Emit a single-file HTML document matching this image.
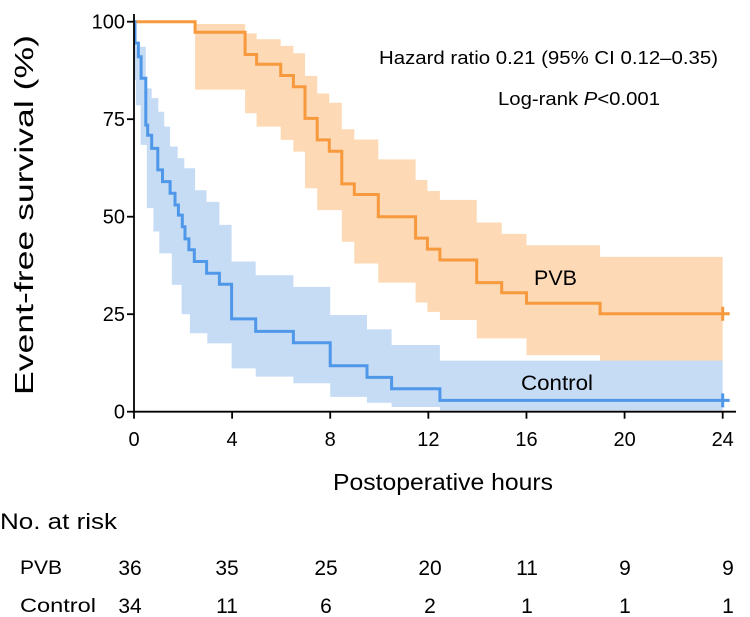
<!DOCTYPE html>
<html><head><meta charset="utf-8"><style>
html,body{margin:0;padding:0;background:#fff;}
svg{display:block;font-family:"Liberation Sans",Arial,sans-serif;}
</style></head><body>
<svg id="chart" width="750" height="617" viewBox="0 0 750 617">
  <g id="bands"></g>
  <g id="lines"></g>
  <g id="axes"></g>
  <text x="33" y="215" font-size="26" text-anchor="middle" textLength="360" lengthAdjust="spacingAndGlyphs" transform="rotate(-90 33 215)">Event-free survival (%)</text>
  <text x="443" y="490" font-size="23" text-anchor="middle" textLength="220" lengthAdjust="spacingAndGlyphs">Postoperative hours</text>
  <text x="379" y="64" font-size="18" textLength="339" lengthAdjust="spacingAndGlyphs">Hazard ratio 0.21 (95% CI  0.12–0.35)</text>
  <text x="498" y="105" font-size="18" textLength="162" lengthAdjust="spacingAndGlyphs">Log-rank <tspan font-style="italic">P</tspan>&lt;0.001</text>
  <text x="534" y="285" font-size="21" textLength="43" lengthAdjust="spacingAndGlyphs">PVB</text>
  <text x="521" y="390" font-size="21" textLength="72" lengthAdjust="spacingAndGlyphs">Control</text>
  <text x="0" y="529" font-size="22" textLength="117" lengthAdjust="spacingAndGlyphs">No. at risk</text>
  <text x="20" y="574" font-size="19" textLength="42" lengthAdjust="spacingAndGlyphs">PVB</text>
  <text x="20" y="612" font-size="19" textLength="76" lengthAdjust="spacingAndGlyphs">Control</text>
  <g id="risk"></g>
</svg>
<script>
const xTicks=[0,4,8,12,16,20,24];
const yTicks=[0,25,50,75,100];
const pvbSteps=[[0,100],[2.49,97.3],[4.53,91.6],[5.0,89.1],[5.98,86.2],[6.5,83.3],[6.97,75.2],[7.47,69.7],[7.96,66.8],[8.47,58.4],[8.98,55.7],[9.96,50],[11.48,44.5],[11.96,41.7],[12.47,38.9],[13.97,33.1],[14.99,30.5],[16.0,27.8],[19.0,25.1]];
const pvbUpper=[[2.49,99.4],[4.53,97],[5.0,95.5],[5.98,93.8],[6.5,91.9],[6.97,86.1],[7.47,81.6],[7.96,79.2],[8.47,72.4],[8.98,69.8],[9.96,64.7],[11.48,59.4],[11.96,56.6],[12.47,54.3],[13.97,48.5],[14.99,45.6],[16.0,42.7],[19.0,39.7]];
const pvbLower=[[2.49,82.6],[4.53,76.5],[5.0,73.1],[5.98,69.7],[6.5,66.7],[6.97,57.3],[7.47,51.7],[8.47,43.6],[8.98,38],[9.96,33.1],[11.48,28],[11.96,25.6],[12.47,23.5],[13.97,18.8],[16.0,14.5],[19.0,12.6]];
const ctlSteps=[[0,100],[0.04,94.5],[0.18,91],[0.29,85.5],[0.48,73.5],[0.56,70.9],[0.72,67.5],[0.97,62],[1.16,59],[1.47,56],[1.67,53],[1.81,50.4],[1.97,47.4],[2.08,44.3],[2.24,41.5],[2.46,38.5],[2.96,35.5],[3.48,32.7],[3.98,23.8],[4.96,20.6],[6.5,17.7],[8.0,11.8],[9.5,8.8],[10.5,5.9],[12.47,2.9]];
const ctlUpper=[[0,100],[0.1,93.6],[0.48,82.9],[0.72,80.4],[0.99,76.9],[1.23,73.1],[1.47,68],[1.78,65],[2.05,62.4],[2.49,56.8],[2.96,53.8],[3.48,47.9],[3.98,38.5],[4.96,35],[6.5,32],[8.0,24.8],[9.5,21.1],[10.5,17.1],[12.47,13.1]];
const ctlLower=[[0,85],[0.08,78.6],[0.27,68.4],[0.52,52.2],[0.79,46.2],[1.03,40.6],[1.54,32.5],[1.94,25],[2.28,20.1],[2.99,17.5],[3.98,11.1],[4.96,9],[6.5,7.3],[8.0,3.8],[9.5,2.3],[10.5,1.2],[12.47,0.3]];
const riskTimes=[0,4,8,12,16,20,24];
const riskPVB=[36,35,25,20,11,9,9];
const riskControl=[34,11,6,2,1,1,1];
const tEnd=24;

const NS="http://www.w3.org/2000/svg";
const X0=134,X1=722.7,Y0=411.7,Y1=21.7;
const xs=t=>X0+(X1-X0)*t/24;
const ys=v=>Y0-(Y0-Y1)*v/100;
function mk(tag,attrs,parent){const e=document.createElementNS(NS,tag);for(const k in attrs)e.setAttribute(k,attrs[k]);parent.appendChild(e);return e;}
function stepPts(steps,end){const p=[];for(let i=0;i<steps.length;i++){const t=steps[i][0],v=steps[i][1];const tn=i+1<steps.length?steps[i+1][0]:end;p.push([xs(t),ys(v)],[xs(tn),ys(v)]);}return p;}
function band(up,lo,end,color,name){
  const u=stepPts(up,end),l=stepPts(lo,end).reverse();
  const d="M"+u.concat(l).map(p=>p[0].toFixed(1)+","+p[1].toFixed(1)).join("L")+"Z";
  const e=mk("path",{d:d,fill:color,stroke:"none"},document.getElementById("bands"));
  
  
}
band(pvbUpper,pvbLower,tEnd,"#fdd9b5","pvb-ci-band");
band(ctlUpper,ctlLower,tEnd,"#c6dcf5","control-ci-band");
function curve(steps,color,name){
  const p=stepPts(steps,tEnd);
  const g=document.getElementById("lines");
  const e=mk("path",{d:"M"+p.map(q=>q[0].toFixed(1)+","+q[1].toFixed(1)).join("L"),fill:"none",stroke:color,"stroke-width":3},g);
  
  
  const last=steps[steps.length-1][1];
  const c=mk("path",{d:`M${xs(tEnd)},${ys(last)-7}V${ys(last)+7}M${xs(tEnd)},${ys(last)}h7`,stroke:color,"stroke-width":3},g);
  
  
}
curve(pvbSteps,"#f7993d","pvb-curve");
curve(ctlSteps,"#4f97e8","control-curve");
const ax=document.getElementById("axes");
const xl=mk("line",{x1:X0,y1:Y0,x2:736,y2:Y0,stroke:"#000","stroke-width":1.8},ax);


const yl=mk("line",{x1:X0,y1:Y0,x2:X0,y2:14,stroke:"#000","stroke-width":1.8},ax);


xTicks.forEach(t=>{
  mk("line",{x1:xs(t),y1:Y0,x2:xs(t),y2:Y0+7,stroke:"#000","stroke-width":1.8},ax);
  const tx=mk("text",{x:xs(t),y:446,"font-size":20,"text-anchor":"middle"},ax);
  tx.textContent=t;
  
  
});
yTicks.forEach(v=>{
  mk("line",{x1:X0-7,y1:ys(v),x2:X0,y2:ys(v),stroke:"#000","stroke-width":1.8},ax);
  const tx=mk("text",{x:X0-9,y:ys(v)+7,"font-size":20,"text-anchor":"end"},ax);
  tx.textContent=v;
  
  
});
const rk=document.getElementById("risk");
const riskX=[130,227,326,430,527,625,728];
riskTimes.forEach((t,i)=>{
  const a=mk("text",{x:riskX[i],y:575,"font-size":21,"text-anchor":"middle"},rk);
  a.textContent=riskPVB[i];
  
  
  const b=mk("text",{x:riskX[i],y:613,"font-size":21,"text-anchor":"middle"},rk);
  b.textContent=riskControl[i];
  
  
});
</script>
</body></html>
